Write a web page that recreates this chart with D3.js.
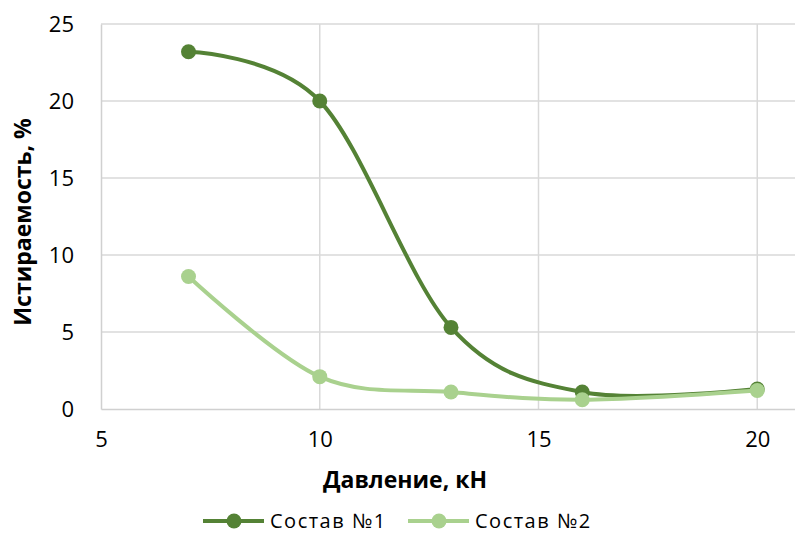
<!DOCTYPE html>
<html>
<head>
<meta charset="utf-8">
<script src="https://cdn.jsdelivr.net/npm/d3@7"></script>
<style>
  html, body { margin: 0; padding: 0; background: #fff; }
  svg { display: block; font-family: "Open Sans", "Liberation Sans", sans-serif; }
</style>
</head>
<body>
<svg id="chart" width="795" height="534"></svg>
<script>
// Pressure (kN) on the x axis, abrasion loss (%) on the y axis
const pressure = [7, 10, 13, 16, 20];
const composition1 = [23.2, 20.0, 5.3, 1.1, 1.3];
const composition2 = [8.6, 2.1, 1.1, 0.6, 1.2];
const seriesNames = ["Состав №1", "Состав №2"];
const xTicks = [5, 10, 15, 20];
const yTicks = [0, 5, 10, 15, 20, 25];

const colors = ["#548235", "#a9d18e"];
const W = 795, H = 534;
const m = { left: 101, right: 0, top: 24, bottom: 125 };

const svg = d3.select("#chart");

const x = d3.scaleLinear()
  .domain([5, 5 + (W - m.left) / 43.75])
  .range([m.left, W - m.right]);
const y = d3.scaleLinear().domain([0, 25]).range([H - m.bottom, m.top]);

// Grid
const grid = svg.append("g").attr("stroke", "#d9d9d9").attr("stroke-width", 1.5);
grid.selectAll("line.h").data(yTicks.filter(d => d > 0)).join("line")
  .attr("x1", m.left).attr("x2", W).attr("y1", d => y(d)).attr("y2", d => y(d));
grid.selectAll("line.v").data(xTicks.filter(d => d > 5)).join("line")
  .attr("y1", m.top).attr("y2", y(0)).attr("x1", d => x(d)).attr("x2", d => x(d));

// Axes
const xAxis = svg.append("g")
  .attr("transform", `translate(0,${y(0)})`)
  .call(d3.axisBottom(x).tickValues(xTicks).tickSize(0).tickPadding(22));
const yAxis = svg.append("g")
  .attr("transform", `translate(${m.left},0)`)
  .call(d3.axisLeft(y).tickValues(yTicks).tickSize(0).tickPadding(27));
[xAxis, yAxis].forEach(a => {
  a.select(".domain").attr("stroke", "#d0d0d0").attr("stroke-width", 1.5);
  a.selectAll("text").attr("font-size", 22).attr("fill", "#000")
    .attr("font-family", "'Open Sans', sans-serif");
});
xAxis.selectAll("text").attr("dy", "0.71em");
yAxis.selectAll("text").attr("dy", "0.35em");

// Axis titles
svg.append("text")
  .attr("x", 405).attr("y", 488)
  .attr("text-anchor", "middle").attr("font-weight", "bold").attr("font-size", 23)
  .text("Давление, кН");
svg.append("text")
  .attr("transform", `translate(31,${222}) rotate(-90)`)
  .attr("text-anchor", "middle").attr("font-weight", "bold").attr("font-size", 23)
  .text("Истираемость, %");

// Smoothed series lines with markers
const line = d3.line()
  .x((d, i) => x(pressure[i]))
  .y(d => y(d))
  .curve(d3.curveCardinal.tension(0));

[composition1, composition2].forEach((vals, s) => {
  const g = svg.append("g");
  g.append("path").datum(vals)
    .attr("d", line).attr("fill", "none")
    .attr("stroke", colors[s]).attr("stroke-width", 4).attr("stroke-linecap", "round");
  g.selectAll("circle").data(vals).join("circle")
    .attr("cx", (d, i) => x(pressure[i])).attr("cy", d => y(d))
    .attr("r", 7.5).attr("fill", colors[s]);
});

// Legend
const legendX = [203, 408];
seriesNames.forEach((name, s) => {
  const g = svg.append("g").attr("transform", `translate(${legendX[s]},521)`);
  g.append("line").attr("x1", 0).attr("x2", 61).attr("y1", 0).attr("y2", 0)
    .attr("stroke", colors[s]).attr("stroke-width", 4);
  g.append("circle").attr("cx", 31).attr("cy", 0).attr("r", 7.5).attr("fill", colors[s]);
  g.append("text").attr("x", 67).attr("y", 0).attr("dy", "0.35em")
    .attr("font-size", 20).attr("letter-spacing", 1.5).text(name);
});
</script>
</body>
</html>
